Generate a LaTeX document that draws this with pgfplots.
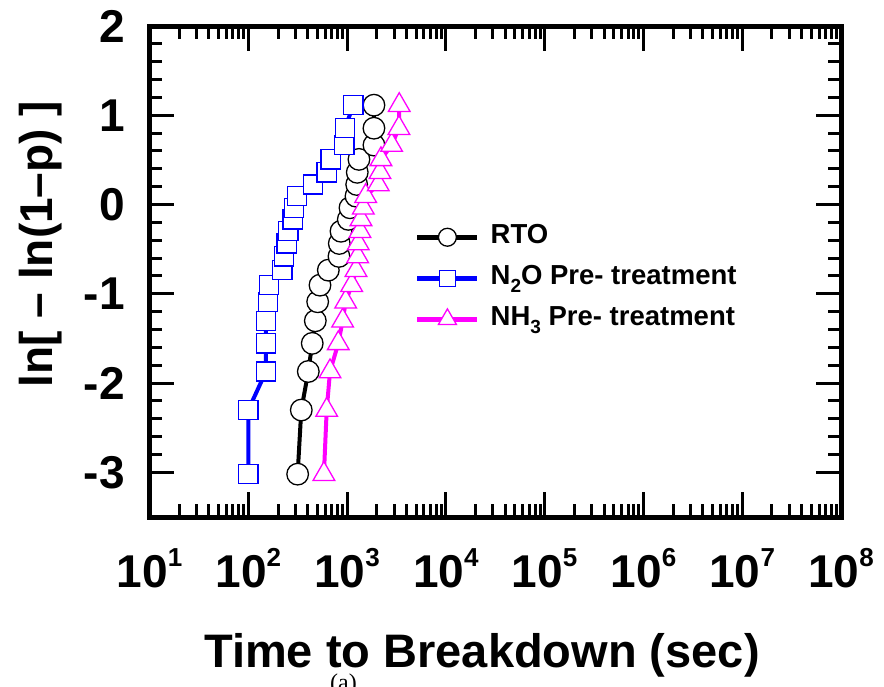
\documentclass[border=0pt]{standalone}
\usepackage{fontspec}
\setmainfont{Liberation Sans}
\newfontfamily\seriffont{Liberation Serif}
\usepackage{pgfplots}
\pgfplotsset{compat=1.18}
\definecolor{myblue}{RGB}{0,0,255}
\definecolor{mymag}{RGB}{255,0,255}
\newcommand{\tl}[1]{10\raisebox{0.47em}{\fontsize{26}{28}\selectfont #1}}
\newcommand{\sbs}[1]{\raisebox{-0.28em}{\fontsize{19}{21}\selectfont #1}}
\begin{document}
\begin{tikzpicture}
\begin{axis}[
  xmode=log,
  scale only axis,
  width=691.5pt, height=491pt,
  xmin=10, xmax=1e8, ymin=-3.5, ymax=2,
  xtick={10,100,1000,10000,100000,1000000,10000000,100000000},
  xticklabels={\tl{1},\tl{2},\tl{3},\tl{4},\tl{5},\tl{6},\tl{7},\tl{8}},
  ytick={-3,-2,-1,0,1,2},
  minor y tick num=4,
  tick align=inside,
  major tick length=25pt,
  minor tick length=13pt,
  every tick/.style={line width=3pt, black},
  axis line style={line width=5pt},
  /pgf/number format/assume math mode=true,
  ticklabel style={font=\fontsize{46}{50}\selectfont\bfseries},
  xticklabel style={anchor=north, inner sep=0pt, yshift=-31pt},
  yticklabel style={anchor=east, inner sep=0pt, xshift=-24.5pt},
  ylabel={ln[ – ln(1–p) ]},
  ylabel style={font=\fontsize{46}{50}\selectfont\bfseries, at={(axis description cs:-0.157,0.556)}, anchor=center},
  xlabel={Time to Breakdown (sec)},
  xlabel style={font=\fontsize{47}{50}\selectfont\bfseries, at={(axis description cs:0.4808,-0.3055)}, anchor=base},
  legend style={at={(axis description cs:0.3839,0.5997)}, anchor=north west, draw=none, fill=none, inner sep=0pt,
    font=\fontsize{27.5}{31}\selectfont\bfseries,
    nodes={inner sep=0pt, text height=21pt, text depth=8pt}, row sep=12pt,
    /tikz/every odd column/.append style={column sep=11pt}},
  legend cell align=left,
  legend image code/.code={\draw[mark repeat=2,mark phase=2,#1, line width=4.5pt, every mark/.append style={scale=0.83}] plot coordinates {(0pt,0pt) (30pt,0pt) (60pt,0pt)};},
]
\addplot[black, line width=4pt, mark=*, mark size=10.8pt, mark options={solid, fill=white, draw=black, line width=1.3pt}] coordinates {
(316,-3.020) (344,-2.302) (405,-1.870) (444,-1.555) (477,-1.302) (504,-1.089) (532,-0.903) (646,-0.735) (828,-0.581) (834,-0.436)
(868,-0.299) (1029,-0.166) (1070,-0.036) (1231,0.094) (1251,0.225) (1268,0.361) (1319,0.506) (1871,0.666) (1871,0.855) (1871,1.113)
};
\addlegendentry{RTO}
\addplot[myblue, line width=4pt, mark=square*, mark size=9.6pt, mark options={solid, fill=white, draw=myblue, line width=1.3pt}] coordinates {
(100,-3.020) (100,-2.302) (151,-1.870) (151,-1.555) (151,-1.302) (158,-1.089) (163,-0.903) (221,-0.735) (231,-0.581) (245,-0.436)
(254,-0.299) (281,-0.166) (290,-0.036) (313,0.094) (452,0.225) (622,0.361) (683,0.506) (937,0.666) (953,0.855) (1156,1.113)
};
\addlegendentry{N\sbs{2}O Pre- treatment}
\addplot[mymag, line width=4pt, mark=triangle*, mark size=12.5pt, mark options={solid, fill=white, draw=mymag, line width=1.3pt}] coordinates {
(583,-3.020) (622,-2.302) (672,-1.870) (815,-1.555) (902,-1.302) (968,-1.089) (1113,-0.903) (1231,-0.735) (1280,-0.581) (1298,-0.436)
(1351,-0.299) (1383,-0.166) (1460,-0.036) (1543,0.094) (2069,0.225) (2153,0.361) (2203,0.506) (2825,0.666) (3350,0.855) (3373,1.113)
};
\addlegendentry{NH\sbs{3} Pre- treatment}
\end{axis}
\node[font=\seriffont\fontsize{24}{26}\selectfont, anchor=base] at (194pt,-173pt) {(a)};
\pgfresetboundingbox
\path (-149.5pt,-169pt) rectangle (734.5pt,517pt);
\end{tikzpicture}
\end{document}
